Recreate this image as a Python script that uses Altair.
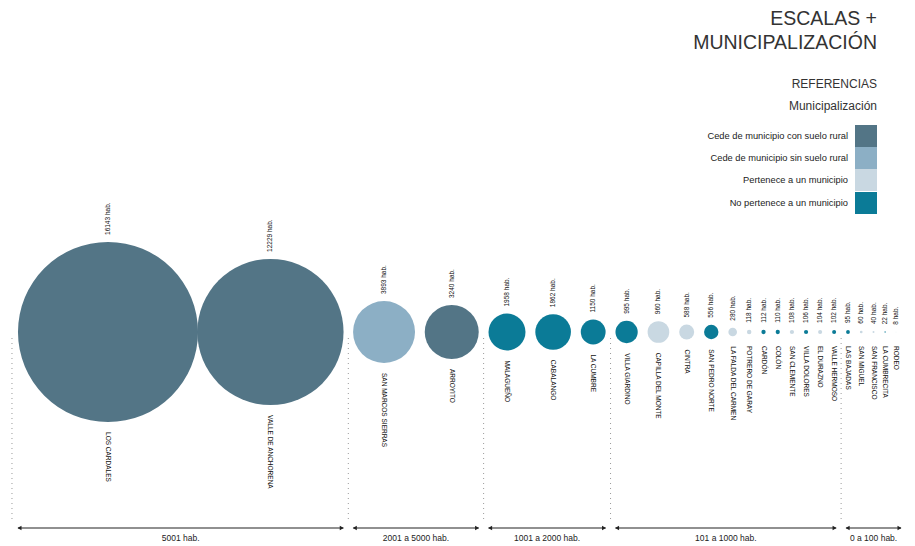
import math
import pandas as pd
import altair as alt

# ---------------- data ----------------
names = [
    "LOS CARDALES", "VALLE DE ANCHORENA", "SAN MARCOS SIERRAS", "ARROYITO",
    "MALAGUEÑO", "CABALANGO", "LA CUMBRE", "VILLA GIARDINO",
    "CAPILLA DEL MONTE", "CINTRA", "SAN PEDRO NORTE", "LA FALDA DEL CARMEN",
    "POTRERO DE GARAY", "CARDÓN", "COLÓN", "SAN CLEMENTE",
    "VILLA DOLORES", "EL DURAZNO", "VALLE HERMOSO", "LAS BAJADAS",
    "SAN MIGUEL", "SAN FRANCISCO", "LA CUMBRECITA", "RODEO",
]
pops = [
    16143, 12229, 3893, 3240,
    1958, 1862, 1150, 995,
    960, 588, 556, 280,
    118, 112, 110, 108,
    106, 104, 102, 95,
    60, 40, 22, 8,
]
# category code per locality (index into CAT_LABELS)
cat_codes = [
    0, 0, 1, 0,
    3, 3, 3, 3,
    2, 2, 3, 2,
    2, 3, 3, 2,
    3, 2, 3, 3,
    2, 2, 3, 2,
]
CAT_LABELS = [
    "Cede de municipio con suelo rural",
    "Cede de municipio sin suelo rural",
    "Pertenece a un municipio",
    "No pertenece a un municipio",
]
CAT_COLORS = ["#537586", "#8cafc5", "#c9d8e2", "#0b7b97"]
GROUP_LABELS = ["5001 hab.", "2001 a 5000 hab.", "1001 a 2000 hab.",
                "101 a 1000 hab.", "0 a 100 hab."]
GROUP_MIN = [5001, 2001, 1001, 101, 0]
TITLE = ["ESCALAS +", "MUNICIPALIZACIÓN"]
SUBTITLE = ["REFERENCIAS", "Municipalización"]

# ---------------- layout (derived from the data) ----------------
W, H = 899, 534
A_R, B_R = 0.06286, 0.75          # radius (px) = A * pop^B
GAP = 10                          # gap between circles (the two largest touch)
X_FIRST, X_LAST = 108, 896        # page px of first / last centre
Y_CENTER = 332
Y_ARROW, Y_ARROW_LABEL = 528, 538

radii = [A_R * p ** B_R for p in pops]
lay = [0.0]
for i in range(1, len(pops)):
    lay.append(lay[-1] + radii[i - 1] + radii[i] + (GAP if i > 1 else 0))
k = (X_LAST - X_FIRST) / (lay[-1] - lay[0])
L0 = lay[0] - (X_FIRST - 8) / k
L1 = L0 + W / k


def px_to_x(px):
    return L0 + (px - 8) / k


def group_of(p):
    for g, m in enumerate(GROUP_MIN):
        if p >= m:
            return g
    return len(GROUP_MIN) - 1


groups = [group_of(p) for p in pops]

df = pd.DataFrame({
    "name": names,
    "pop": pops,
    "cat": [CAT_LABELS[c] for c in cat_codes],
    "x": lay,
    "size": [(2 * r) ** 2 for r in radii],
    "ytop": [Y_CENTER - r - 7 for r in radii],
    "ybot": [max(Y_CENTER + r + 10, 346) for r in radii],
    "y": [Y_CENTER] * len(pops),
    "hab": [f"{p} hab." for p in pops],
})

# group boundaries
seps = []
for g in range(len(GROUP_LABELS) - 1):
    a = max(i for i, gg in enumerate(groups) if gg == g)
    b = min(i for i, gg in enumerate(groups) if gg == g + 1)
    seps.append((lay[a] + lay[b]) / 2 + (radii[a] - radii[b]) / 2 / k)
left_edge = lay[0] - radii[0] / k
right_edge = lay[-1] + 5 / k
bounds = [left_edge] + seps + [right_edge]
pad = 5 / k
arrows = pd.DataFrame({
    "x1": [bounds[0]] + [s + pad for s in bounds[1:-1]],
    "x2": [s - pad for s in bounds[1:-1]] + [bounds[-1]],
    "label": GROUP_LABELS,
})
arrows["xm"] = (arrows["x1"] + arrows["x2"]) / 2
arrows["y"] = Y_ARROW
arrows["ylab"] = Y_ARROW_LABEL

heads = pd.DataFrame({
    "x": list(arrows["x1"] + 1.5 / k) + list(arrows["x2"] - 1.5 / k),
    "shape": ["triangle-left"] * len(arrows) + ["triangle-right"] * len(arrows),
    "y": Y_ARROW,
})

sep_df = pd.DataFrame({
    "x": [left_edge - 6 / k] + seps,
    "y1": 338,
    "y2": 522,
})

# legend block (swatches stacked, labels to their left)
SW = 22
leg = pd.DataFrame({
    "cat": CAT_LABELS,
    "y": [125 + SW / 2 + i * SW + (1 if i == 3 else 0) for i in range(4)],
})
leg["xs"] = px_to_x(866)
leg["xt"] = px_to_x(848)

FONT = "Liberation Sans"
xs = alt.Scale(domain=[L0, L1], nice=False, zero=False)
ys = alt.Scale(domain=[8, 8 + H], nice=False, zero=False, reverse=True)
X = lambda f: alt.X(f, type="quantitative", scale=xs, axis=None)
Y = lambda f: alt.Y(f, type="quantitative", scale=ys, axis=None)
COLOR = alt.Color("cat:N", scale=alt.Scale(domain=CAT_LABELS, range=CAT_COLORS),
                  legend=None)

sep_layer = alt.Chart(sep_df).mark_rule(
    color="#9a9a9a", strokeWidth=1, strokeDash=[1, 4]
).encode(x=X("x"), y=Y("y1"), y2="y2")

arrow_layer = alt.Chart(arrows).mark_rule(color="#222", strokeWidth=1.2).encode(
    x=X("x1"), x2="x2", y=Y("y")
)
head_layer = alt.Chart(heads).mark_point(
    filled=True, color="#222", size=22, opacity=1
).encode(x=X("x"), y=Y("y"), shape=alt.Shape("shape:N", scale=None))
arrow_text = alt.Chart(arrows).mark_text(
    font=FONT, fontSize=8.5, color="#222", baseline="middle"
).encode(x=X("xm"), y=Y("ylab"), text="label:N")

circles = alt.Chart(df).mark_circle(opacity=1).encode(
    x=X("x"), y=Y("y"),
    size=alt.Size("size:Q", scale=None, legend=None),
    color=COLOR,
)
top_text = alt.Chart(df).mark_text(
    font=FONT, fontSize=6.5, color="#111", angle=270, align="left",
    baseline="middle",
).encode(x=X("x"), y=Y("ytop"), text="hab:N")
bot_text = alt.Chart(df).mark_text(
    font=FONT, fontSize=6.5, color="#111", angle=90, align="left",
    baseline="middle",
).encode(x=X("x"), y=Y("ybot"), text="name:N")

leg_sw = alt.Chart(leg).mark_square(opacity=1, size=SW * SW).encode(
    x=X("xs"), y=Y("y"), color=COLOR
)
leg_tx = alt.Chart(leg).mark_text(
    font=FONT, fontSize=9.3, color="#222", align="right", baseline="middle"
).encode(x=X("xt"), y=Y("y"), text="cat:N")

chart = alt.layer(
    sep_layer, arrow_layer, head_layer, arrow_text, circles, top_text, bot_text,
    leg_sw, leg_tx,
).properties(
    width=W, height=H, padding=0, autosize="none",
    title=alt.TitleParams(
        text=TITLE, subtitle=SUBTITLE,
        anchor="end", frame="group", orient="top", offset=15, dx=-30, dy=119.6,
        font=FONT, fontSize=19.5, fontWeight="normal", color="#333",
        lineHeight=24, subtitleFont=FONT, subtitleFontSize=12,
        subtitleColor="#333", subtitleLineHeight=21.5, subtitlePadding=26,
    ),
).configure_view(strokeWidth=0)

chart.save("out.html", embed_options={"renderer": "svg", "actions": False})
